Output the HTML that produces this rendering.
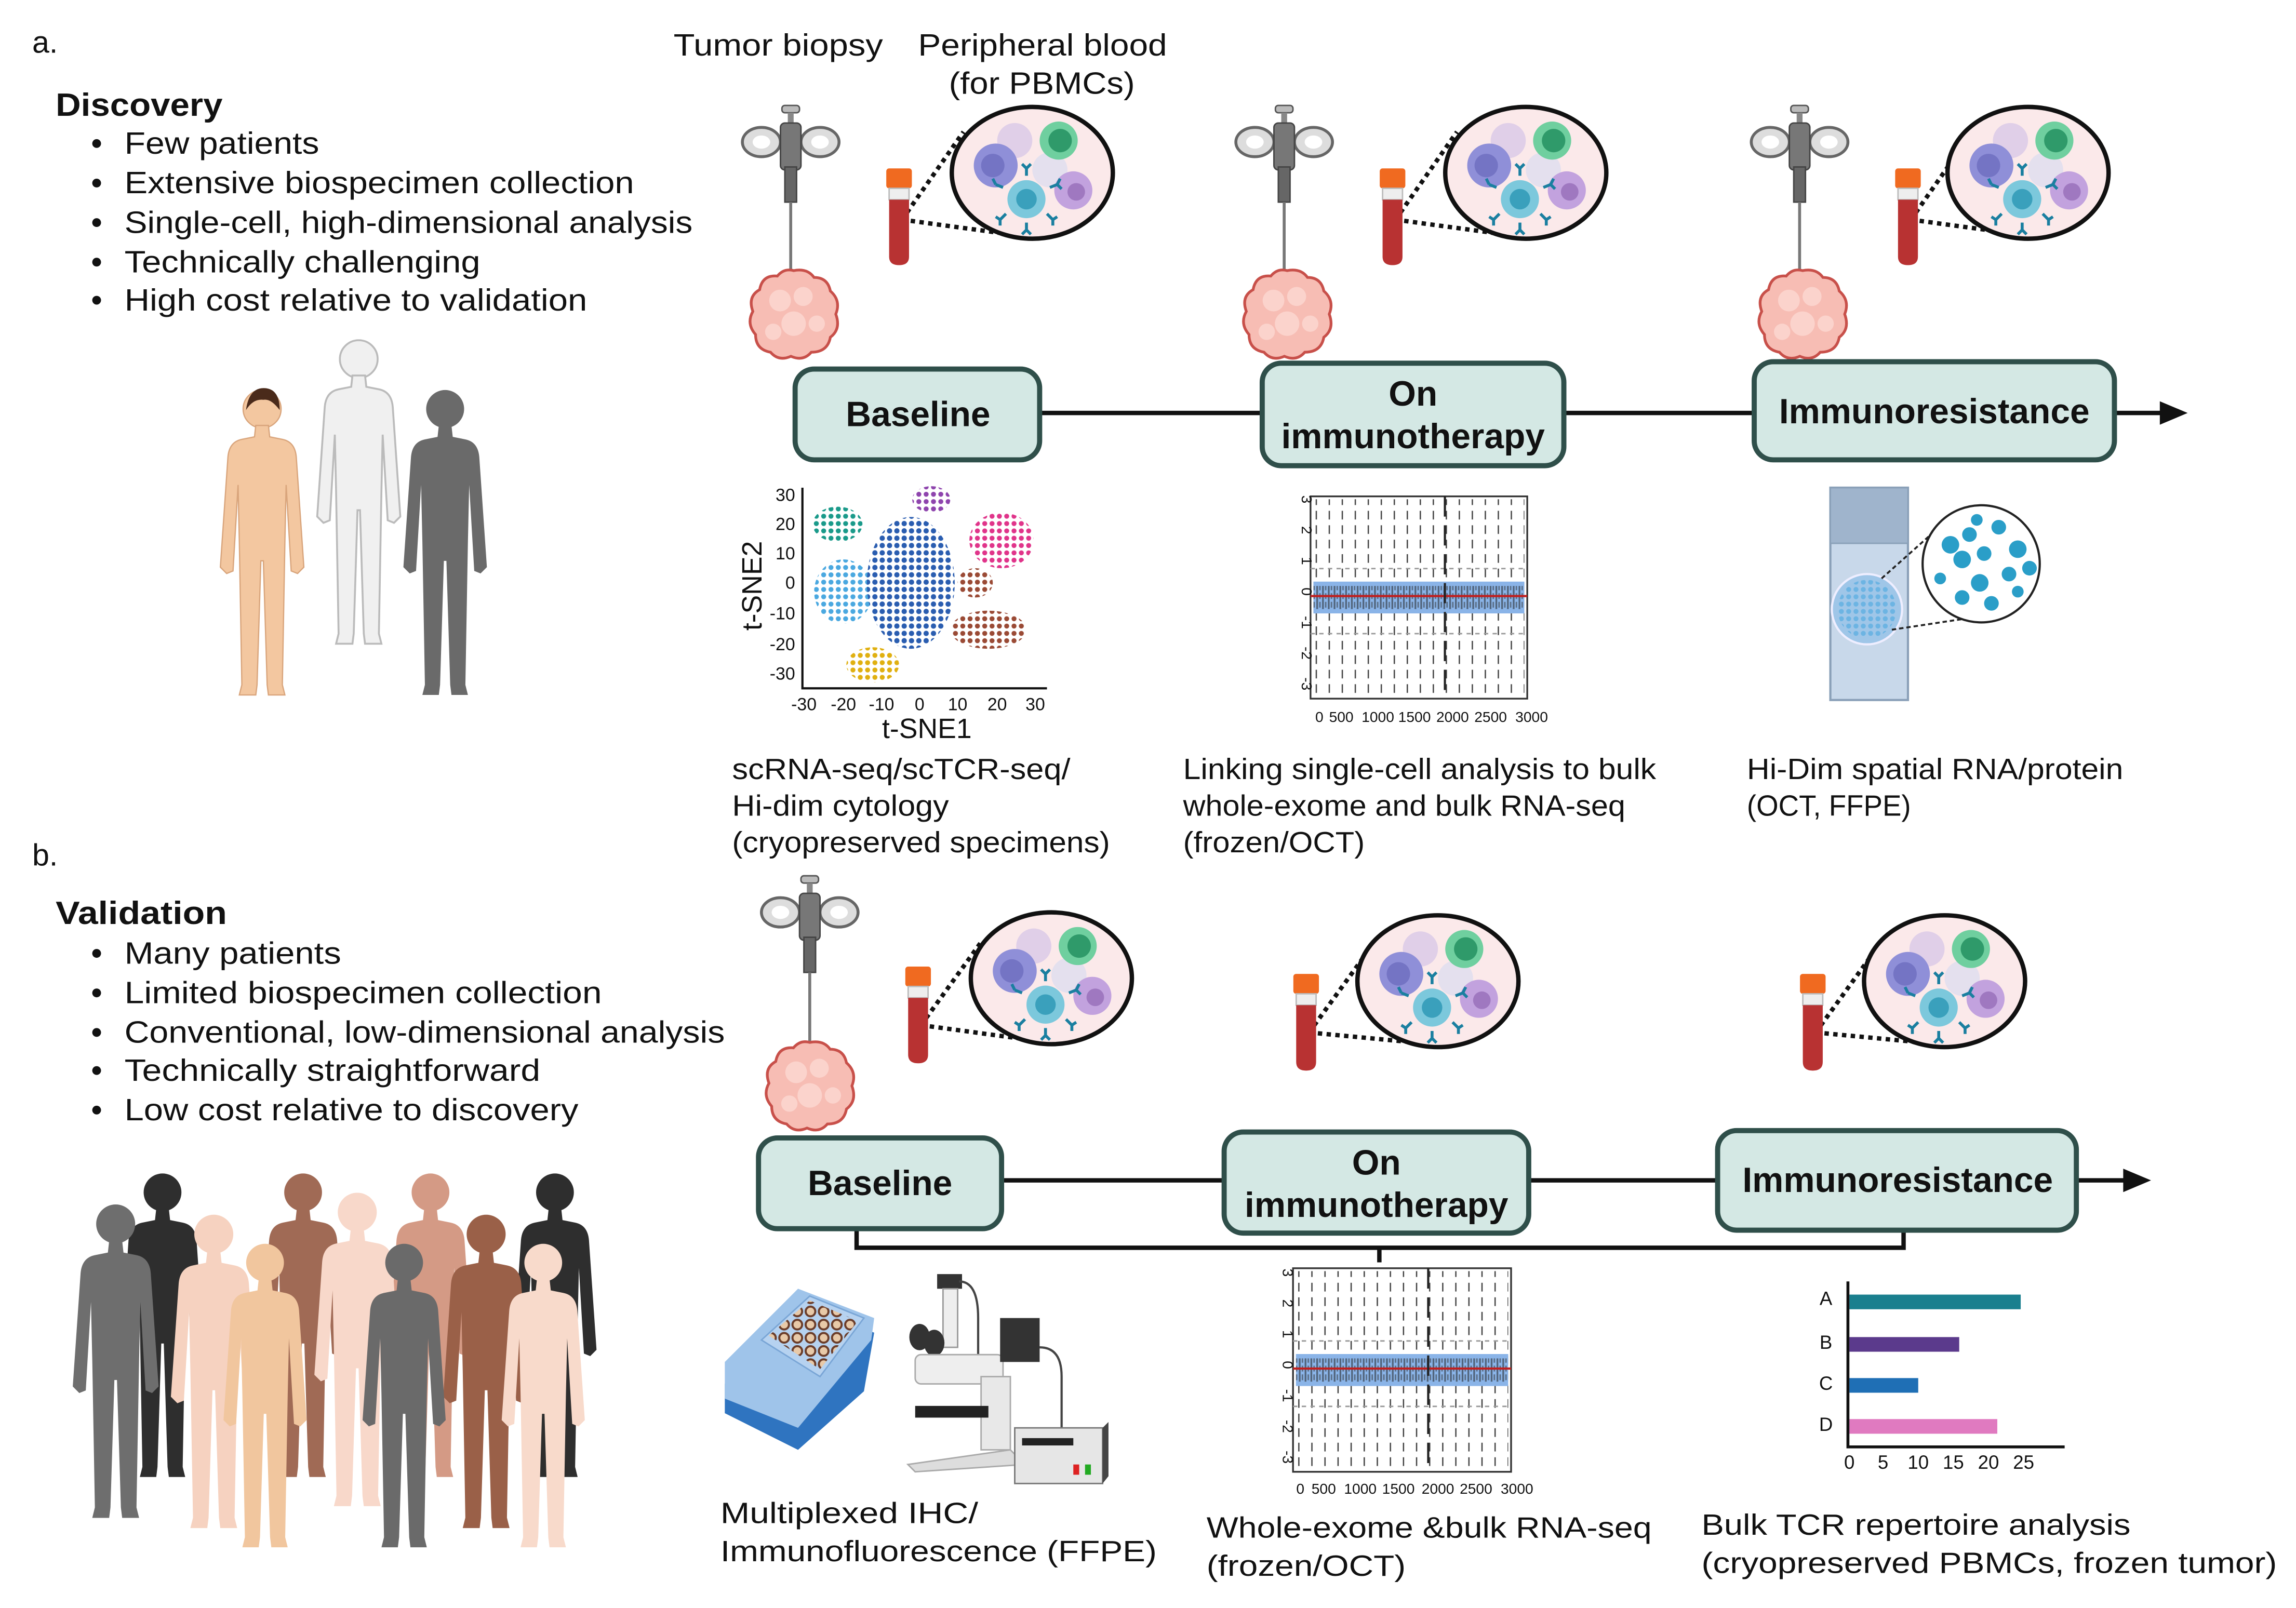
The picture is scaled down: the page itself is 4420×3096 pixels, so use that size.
<!DOCTYPE html>
<html><head><meta charset="utf-8"><style>
html,body{margin:0;padding:0;background:#fff;}
svg{display:block;}
text{font-family:"Liberation Sans",sans-serif;fill:#111;}
</style></head><body>
<svg width="4420" height="3096" viewBox="0 0 1568 1098" preserveAspectRatio="none" xmlns="http://www.w3.org/2000/svg">
<defs>
<pattern id="pTeal" width="5" height="5" patternUnits="userSpaceOnUse"><circle cx="2.5" cy="2.5" r="1.7" fill="#1a9a8a"/></pattern>
<pattern id="pPur" width="5" height="5" patternUnits="userSpaceOnUse"><circle cx="2.5" cy="2.5" r="1.7" fill="#8e44ad"/></pattern>
<pattern id="pPink" width="5" height="5" patternUnits="userSpaceOnUse"><circle cx="2.5" cy="2.5" r="1.7" fill="#e0348a"/></pattern>
<pattern id="pLb" width="5" height="5" patternUnits="userSpaceOnUse"><circle cx="2.5" cy="2.5" r="1.7" fill="#4aa8e0"/></pattern>
<pattern id="pBl" width="5" height="5" patternUnits="userSpaceOnUse"><circle cx="2.5" cy="2.5" r="1.8" fill="#2a5db0"/></pattern>
<pattern id="pBr" width="5" height="5" patternUnits="userSpaceOnUse"><circle cx="2.5" cy="2.5" r="1.7" fill="#9a4a35"/></pattern>
<pattern id="pYe" width="5" height="5" patternUnits="userSpaceOnUse"><circle cx="2.5" cy="2.5" r="1.7" fill="#e0b010"/></pattern>
<pattern id="pVd" width="9" height="10" patternUnits="userSpaceOnUse"><line x1="4" y1="0" x2="4" y2="6" stroke="#222" stroke-width="0.9"/></pattern>
<pattern id="pNoise" width="4" height="6" patternUnits="userSpaceOnUse"><rect x="0" y="0" width="1.2" height="6" fill="#222"/><rect x="2" y="1" width="1" height="4" fill="#333"/></pattern>
<pattern id="pWell" width="9" height="9" patternUnits="userSpaceOnUse"><circle cx="4.5" cy="4.5" r="3.3" fill="#e8c9a8" stroke="#6b3d2a" stroke-width="1.4"/></pattern>

<symbol id="person" viewBox="0 0 80 250" overflow="visible">
<circle cx="40" cy="20" r="15"/>
<path d="M35 33 L45 33 L46 42 L56 44 Q66 46 67 58 L73 145 L68 150 L63 148 L59 80 L58 125 L56 238 L58 246 L45 246 L44 238 L41 140 L39 140 L36 238 L35 246 L22 246 L24 238 L22 125 L21 80 L17 148 L12 150 L7 145 L13 58 Q14 46 24 44 L34 42 Z"/>
</symbol>

<symbol id="syringe" viewBox="0 0 70 120" overflow="visible">
<rect x="29" y="0" width="12" height="5" rx="2" fill="#bbb" stroke="#555"/>
<rect x="33" y="5" width="4" height="12" fill="#888"/>
<ellipse cx="15" cy="25" rx="13" ry="10" fill="#ddd" stroke="#666" stroke-width="2"/>
<ellipse cx="15" cy="25" rx="6" ry="4.5" fill="#fff"/>
<ellipse cx="55" cy="25" rx="13" ry="10" fill="#ddd" stroke="#666" stroke-width="2"/>
<ellipse cx="55" cy="25" rx="6" ry="4.5" fill="#fff"/>
<rect x="28" y="12" width="14" height="32" rx="3" fill="#777" stroke="#444"/>
<rect x="31" y="42" width="8" height="24" fill="#666" stroke="#444"/>
<line x1="35" y1="66" x2="35" y2="114" stroke="#777" stroke-width="2"/>
</symbol>

<symbol id="tumor" viewBox="0 0 70 70" overflow="visible">
<path d="M35 3 Q45 1 50 8 Q60 8 62 18 Q70 25 66 35 Q70 46 62 52 Q60 63 48 63 Q42 70 33 66 Q24 70 18 63 Q7 61 7 50 Q0 42 5 33 Q1 22 10 17 Q12 6 23 7 Q28 1 35 3 Z" fill="#f7bdb4" stroke="#c8504a" stroke-width="2"/>
<circle cx="25" cy="25" r="8" fill="#fbd3cc"/><circle cx="42" cy="22" r="7" fill="#fbd3cc"/><circle cx="35" cy="42" r="9" fill="#fbd3cc"/><circle cx="20" cy="48" r="6" fill="#fbd3cc"/><circle cx="52" cy="42" r="6" fill="#fbd3cc"/>
</symbol>

<symbol id="tube" viewBox="0 0 20 70" overflow="visible">
<rect x="1" y="0" width="18" height="14" rx="2" fill="#f06a20"/>
<rect x="3" y="14" width="14" height="8" fill="#eee" stroke="#bbb"/>
<path d="M3 22 L17 22 L17 62 Q17 68 10 68 Q3 68 3 62 Z" fill="#b83232"/>
</symbol>

<symbol id="cells" viewBox="-60 -50 120 100" overflow="visible">
<ellipse cx="0" cy="0" rx="55" ry="45" fill="#fbe9ea" stroke="#111" stroke-width="3"/>
<circle cx="-12" cy="-22" r="12" fill="#e0cfe8"/>
<circle cx="12" cy="-2" r="12" fill="#e4e0ee"/>
<circle cx="-25" cy="-5" r="15" fill="#8f8fd8"/><circle cx="-27" cy="-5" r="8" fill="#7474c4"/>
<circle cx="18" cy="-22" r="13" fill="#6fcf9f"/><circle cx="19" cy="-22" r="8" fill="#2f9a6a"/>
<circle cx="28" cy="12" r="13" fill="#c2a2de"/><circle cx="30" cy="13" r="6" fill="#9f78c0"/>
<circle cx="-4" cy="18" r="13" fill="#7cc8dc"/><circle cx="-4" cy="18" r="7" fill="#3aa0bc"/>
<g stroke="#1a7fa0" stroke-width="2" fill="none">
<path d="M-4 2 L-4 -3 M-7 -6 L-4 -3 L-1 -6"/><path d="M-4 34 L-4 39 M-7 42 L-4 39 L-1 42"/>
<path d="M-20 10 L-25 8 M-27 4 L-25 8 M-28 11"/><path d="M12 10 L17 8 L19 4 M17 8 L20 11"/>
<path d="M-18 28 L-22 32 M-25 30 L-22 32 L-22 36"/><path d="M10 28 L14 32 L17 30 M14 32 L14 36"/>
</g>
</symbol>

<symbol id="genome" viewBox="0 0 150 140" overflow="visible">
<rect x="0" y="0" width="150" height="140" fill="#fff" stroke="#333" stroke-width="1.2"/>
<rect x="2" y="2" width="146" height="136" fill="url(#pVd)" opacity="0.85"/>
<line x1="0" y1="50" x2="150" y2="50" stroke="#999" stroke-dasharray="3 3"/>
<line x1="0" y1="95" x2="150" y2="95" stroke="#999" stroke-dasharray="3 3"/>
<rect x="2" y="59" width="146" height="22" fill="#8ab4e8"/>
<rect x="2" y="62" width="146" height="16" fill="url(#pNoise)" opacity="0.55"/>
<line x1="0" y1="69" x2="150" y2="69" stroke="#c02020" stroke-width="1.5"/>
<line x1="93" y1="0" x2="93" y2="140" stroke="#222" stroke-width="1.5" stroke-dasharray="14 6"/>
</symbol>
</defs>

<!-- LEFT TEXT -->
<text x="22" y="36" font-size="21">a.</text>
<text x="38" y="79" font-size="22" font-weight="bold" textLength="114" lengthAdjust="spacingAndGlyphs">Discovery</text>
<g font-size="21">
<circle cx="66" cy="98" r="3" fill="#111"/><text x="85" y="105" textLength="133" lengthAdjust="spacingAndGlyphs">Few patients</text>
<circle cx="66" cy="125" r="3" fill="#111"/><text x="85" y="132" textLength="348" lengthAdjust="spacingAndGlyphs">Extensive biospecimen collection</text>
<circle cx="66" cy="152" r="3" fill="#111"/><text x="85" y="159" textLength="388" lengthAdjust="spacingAndGlyphs">Single-cell, high-dimensional analysis</text>
<circle cx="66" cy="179" r="3" fill="#111"/><text x="85" y="186" textLength="243" lengthAdjust="spacingAndGlyphs">Technically challenging</text>
<circle cx="66" cy="205" r="3" fill="#111"/><text x="85" y="212" textLength="316" lengthAdjust="spacingAndGlyphs">High cost relative to validation</text>
</g>
<text x="22" y="591" font-size="21">b.</text>
<text x="38" y="631" font-size="22" font-weight="bold" textLength="117" lengthAdjust="spacingAndGlyphs">Validation</text>
<g font-size="21">
<circle cx="66" cy="651" r="3" fill="#111"/><text x="85" y="658" textLength="148" lengthAdjust="spacingAndGlyphs">Many patients</text>
<circle cx="66" cy="678" r="3" fill="#111"/><text x="85" y="685" textLength="326" lengthAdjust="spacingAndGlyphs">Limited biospecimen collection</text>
<circle cx="66" cy="705" r="3" fill="#111"/><text x="85" y="712" textLength="410" lengthAdjust="spacingAndGlyphs">Conventional, low-dimensional analysis</text>
<circle cx="66" cy="731" r="3" fill="#111"/><text x="85" y="738" textLength="284" lengthAdjust="spacingAndGlyphs">Technically straightforward</text>
<circle cx="66" cy="758" r="3" fill="#111"/><text x="85" y="765" textLength="310" lengthAdjust="spacingAndGlyphs">Low cost relative to discovery</text>
</g>

<!-- PEOPLE a -->
<use href="#person" x="205" y="228" width="80" height="215" fill="#f0f0f0" stroke="#bbb" stroke-width="1.5"/>
<use href="#person" x="138" y="262" width="82" height="216" fill="#f3c7a0" stroke="#d9a57c" stroke-width="1"/>
<use href="#person" x="263" y="262" width="82" height="216" fill="#6a6a6a"/>
<path d="M168 280 Q170 265 180 265 Q191 265 191 280 Q185 272 180 273 Q173 272 168 280 Z" fill="#4a2a1a"/>

<!-- PEOPLE b -->
<g>
<use href="#person" x="72" y="797" width="78" height="215" fill="#2e2e2e"/>
<use href="#person" x="340" y="797" width="78" height="215" fill="#2e2e2e"/>
<use href="#person" x="168" y="797" width="78" height="215" fill="#a06a55"/>
<use href="#person" x="255" y="797" width="78" height="215" fill="#d49a85"/>
<use href="#person" x="40" y="818" width="78" height="222" fill="#6e6e6e"/>
<use href="#person" x="107" y="825" width="78" height="222" fill="#f6d2c0"/>
<use href="#person" x="205" y="810" width="78" height="222" fill="#f8d8ca"/>
<use href="#person" x="293" y="825" width="78" height="222" fill="#9a6048"/>
<use href="#person" x="140" y="845" width="82" height="215" fill="#f1c69e"/>
<use href="#person" x="235" y="845" width="82" height="215" fill="#6a6a6a"/>
<use href="#person" x="330" y="845" width="82" height="215" fill="#f8dacb"/>
</g>

<!-- HEADERS -->
<text x="460" y="38" font-size="21" textLength="143" lengthAdjust="spacingAndGlyphs">Tumor biopsy</text>
<text x="627" y="38" font-size="21" textLength="170" lengthAdjust="spacingAndGlyphs">Peripheral blood</text>
<text x="648" y="64" font-size="21" textLength="127" lengthAdjust="spacingAndGlyphs">(for PBMCs)</text>

<!-- ICONS a -->
<use href="#syringe" x="505" y="72" width="70" height="120"/>
<use href="#tumor" x="507" y="182" width="70" height="65"/>
<use href="#syringe" x="842" y="72" width="70" height="120"/>
<use href="#tumor" x="844" y="182" width="70" height="65"/>
<use href="#syringe" x="1194" y="72" width="70" height="120"/>
<use href="#tumor" x="1196" y="182" width="70" height="65"/>

<g stroke="#111" stroke-width="3" stroke-dasharray="3 3" fill="none">
<path d="M616 150 L658 90 M616 150 L690 160"/>
<path d="M953 150 L995 90 M953 150 L1027 160"/>
<path d="M1305 150 L1347 90 M1305 150 L1379 160"/>
<path d="M629 700 L671 642 M629 700 L703 710"/>
<path d="M894 705 L936 647 M894 705 L968 712"/>
<path d="M1240 705 L1282 647 M1240 705 L1314 712"/>
</g>
<use href="#tube" x="604" y="115" width="20" height="68"/>
<use href="#tube" x="941" y="115" width="20" height="68"/>
<use href="#tube" x="1293" y="115" width="20" height="68"/>
<use href="#cells" x="645" y="68" width="120" height="100"/>
<use href="#cells" x="982" y="68" width="120" height="100"/>
<use href="#cells" x="1325" y="68" width="120" height="100"/>

<!-- ICONS b -->
<use href="#syringe" x="518" y="598" width="70" height="120"/>
<use href="#tumor" x="520" y="709" width="66" height="65"/>
<use href="#tube" x="617" y="660" width="20" height="68"/>
<use href="#tube" x="882" y="665" width="20" height="68"/>
<use href="#tube" x="1228" y="665" width="20" height="68"/>
<use href="#cells" x="658" y="618" width="120" height="100"/>
<use href="#cells" x="922" y="620" width="120" height="100"/>
<use href="#cells" x="1268" y="620" width="120" height="100"/>

<!-- TIMELINE a -->
<line x1="708" y1="282" x2="1480" y2="282" stroke="#111" stroke-width="3"/>
<polygon points="1475,274 1494,282 1475,290" fill="#111"/>
<g fill="#d4e8e4" stroke="#2f4f4a" stroke-width="3.5">
<rect x="543" y="252" width="167" height="62" rx="13"/>
<rect x="862" y="248" width="206" height="70" rx="13"/>
<rect x="1198" y="247" width="246" height="67" rx="13"/>
</g>
<g font-size="24" font-weight="bold" text-anchor="middle">
<text x="627" y="291">Baseline</text>
<text x="965" y="277">On</text>
<text x="965" y="306">immunotherapy</text>
<text x="1321" y="289">Immunoresistance</text>
</g>

<!-- TIMELINE b -->
<line x1="683" y1="806" x2="1455" y2="806" stroke="#111" stroke-width="3"/>
<polygon points="1450,798 1469,806 1450,814" fill="#111"/>
<path d="M585 840 L585 852 L1300 852 L1300 840 M942 852 L942 862" stroke="#111" stroke-width="3" fill="none"/>
<g fill="#d4e8e4" stroke="#2f4f4a" stroke-width="3.5">
<rect x="518" y="777" width="166" height="62" rx="13"/>
<rect x="836" y="773" width="208" height="69" rx="13"/>
<rect x="1173" y="772" width="245" height="68" rx="13"/>
</g>
<g font-size="24" font-weight="bold" text-anchor="middle">
<text x="601" y="816">Baseline</text>
<text x="940" y="802">On</text>
<text x="940" y="831">immunotherapy</text>
<text x="1296" y="814">Immunoresistance</text>
</g>

<!-- tSNE -->
<g>
<ellipse cx="572" cy="358" rx="17" ry="12" fill="url(#pTeal)"/>
<ellipse cx="636" cy="341" rx="13" ry="9" fill="url(#pPur)"/>
<ellipse cx="684" cy="369" rx="22" ry="19" fill="url(#pPink)"/>
<ellipse cx="576" cy="404" rx="20" ry="22" fill="url(#pLb)"/>
<ellipse cx="622" cy="398" rx="30" ry="45" fill="url(#pBl)"/>
<ellipse cx="666" cy="398" rx="12" ry="10" fill="url(#pBr)"/>
<ellipse cx="675" cy="430" rx="26" ry="13" fill="url(#pBr)"/>
<ellipse cx="596" cy="454" rx="18" ry="12" fill="url(#pYe)"/>
<path d="M548 333 L548 470 L715 470" stroke="#111" stroke-width="1.5" fill="none"/>
<g font-size="12" text-anchor="end"><text x="543" y="342">30</text><text x="543" y="362">20</text><text x="543" y="382">10</text><text x="543" y="402">0</text><text x="543" y="423">-10</text><text x="543" y="444">-20</text><text x="543" y="464">-30</text></g>
<g font-size="12" text-anchor="middle"><text x="549" y="485">-30</text><text x="576" y="485">-20</text><text x="602" y="485">-10</text><text x="628" y="485">0</text><text x="654" y="485">10</text><text x="681" y="485">20</text><text x="707" y="485">30</text></g>
<text x="633" y="504" font-size="19" text-anchor="middle">t-SNE1</text>
<text x="0" y="0" font-size="19" text-anchor="middle" transform="translate(520,400) rotate(-90)">t-SNE2</text>
</g>

<!-- genome a -->
<use href="#genome" x="895" y="338" width="148" height="140"/>
<g font-size="10" text-anchor="middle">
<text transform="translate(889,341) rotate(90)">3</text><text transform="translate(889,362) rotate(90)">2</text><text transform="translate(889,383) rotate(90)">1</text><text transform="translate(889,404) rotate(90)">0</text><text transform="translate(889,425) rotate(90)">-1</text><text transform="translate(889,446) rotate(90)">-2</text><text transform="translate(889,467) rotate(90)">-3</text>
<text x="901" y="493">0</text><text x="916" y="493">500</text><text x="941" y="493">1000</text><text x="966" y="493">1500</text><text x="992" y="493">2000</text><text x="1018" y="493">2500</text><text x="1046" y="493">3000</text>
</g>
<!-- genome b -->
<use href="#genome" x="882" y="866" width="151" height="139"/>
<g font-size="10" text-anchor="middle">
<text transform="translate(876,869) rotate(90)">3</text><text transform="translate(876,890) rotate(90)">2</text><text transform="translate(876,911) rotate(90)">1</text><text transform="translate(876,932) rotate(90)">0</text><text transform="translate(876,953) rotate(90)">-1</text><text transform="translate(876,974) rotate(90)">-2</text><text transform="translate(876,995) rotate(90)">-3</text>
<text x="888" y="1020">0</text><text x="904" y="1020">500</text><text x="929" y="1020">1000</text><text x="955" y="1020">1500</text><text x="982" y="1020">2000</text><text x="1008" y="1020">2500</text><text x="1036" y="1020">3000</text>
</g>

<!-- slide -->
<rect x="1250" y="333" width="53" height="145" fill="#c8d8ea" stroke="#8aa0b8" stroke-width="1.5"/>
<rect x="1250" y="333" width="53" height="38" fill="#9fb4cc" stroke="#8aa0b8"/>
<circle cx="1275" cy="416" r="24" fill="#9fc6e8" stroke="#eef" stroke-width="1.5"/>
<circle cx="1275" cy="416" r="20" fill="url(#pLb)" opacity="0.6"/>
<g stroke="#222" stroke-width="1.3" stroke-dasharray="3 2"><line x1="1285" y1="395" x2="1322" y2="362"/><line x1="1292" y1="430" x2="1345" y2="422"/></g>
<circle cx="1353" cy="385" r="40" fill="#fff" stroke="#222" stroke-width="1.5"/>
<g fill="#2a9ec8"><circle cx="1332" cy="372" r="6"/><circle cx="1345" cy="365" r="5"/><circle cx="1340" cy="382" r="6"/><circle cx="1355" cy="378" r="5"/><circle cx="1365" cy="360" r="5"/><circle cx="1378" cy="375" r="6"/><circle cx="1386" cy="388" r="5"/><circle cx="1372" cy="392" r="5"/><circle cx="1352" cy="398" r="6"/><circle cx="1340" cy="408" r="5"/><circle cx="1360" cy="412" r="5"/><circle cx="1378" cy="404" r="4"/><circle cx="1325" cy="395" r="4"/><circle cx="1350" cy="355" r="4"/></g>

<!-- plate -->
<g>
<path d="M495 945 L545 890 L597 910 L590 950 L545 990 L495 965 Z" fill="#2f74c0"/>
<path d="M495 930 L545 880 L597 900 L595 915 L545 975 L495 955 Z" fill="#9fc4ea"/>
<path d="M520 915 L553 885 L590 900 L560 940 Z" fill="#b6d2f0" stroke="#7aa6d6"/>
<path d="M525 912 L553 888 L586 902 L560 935 Z" fill="url(#pWell)"/>
</g>
<!-- microscope -->
<g>
<rect x="640" y="870" width="17" height="10" fill="#333"/>
<rect x="644" y="880" width="10" height="40" fill="#eee" stroke="#999"/>
<path d="M655 875 Q668 875 668 900 L668 925" stroke="#444" stroke-width="1.5" fill="none"/>
<ellipse cx="628" cy="913" rx="7" ry="9" fill="#333"/><ellipse cx="638" cy="917" rx="7" ry="9" fill="#333"/>
<rect x="625" y="925" width="60" height="20" rx="4" fill="#eee" stroke="#aaa"/>
<rect x="670" y="940" width="20" height="50" fill="#e8e8e8" stroke="#aaa"/>
<rect x="683" y="900" width="27" height="30" fill="#333"/>
<rect x="625" y="960" width="50" height="8" fill="#222"/>
<path d="M620 1000 L690 990 L700 1000 L625 1005 Z" fill="#ddd" stroke="#aaa"/>
<path d="M710 920 Q725 920 725 940 L725 975" stroke="#444" stroke-width="1.5" fill="none"/>
<rect x="693" y="975" width="60" height="38" fill="#e6e6e6" stroke="#777"/>
<path d="M753 975 L757 971 L757 1008 L753 1013 Z" fill="#444"/>
<rect x="698" y="982" width="35" height="5" fill="#222"/>
<rect x="733" y="1000" width="4" height="7" fill="#d22"/><rect x="741" y="1000" width="4" height="7" fill="#2a2"/>
</g>

<!-- bar chart -->
<g>
<rect x="1263" y="884" width="117" height="10" fill="#1a7f8e"/>
<rect x="1263" y="913" width="75" height="10" fill="#5b3a8c"/>
<rect x="1263" y="941" width="47" height="10" fill="#1f6fb5"/>
<rect x="1263" y="969" width="101" height="10" fill="#e07ac0"/>
<path d="M1262 875 L1262 988 L1410 988" stroke="#111" stroke-width="2" fill="none"/>
<g font-size="13" text-anchor="middle"><text x="1247" y="891">A</text><text x="1247" y="921">B</text><text x="1247" y="949">C</text><text x="1247" y="977">D</text>
<text x="1263" y="1003">0</text><text x="1286" y="1003">5</text><text x="1310" y="1003">10</text><text x="1334" y="1003">15</text><text x="1358" y="1003">20</text><text x="1382" y="1003">25</text></g>
</g>

<!-- captions -->
<g font-size="20">
<text x="500" y="532" textLength="231" lengthAdjust="spacingAndGlyphs">scRNA-seq/scTCR-seq/</text>
<text x="500" y="557" textLength="148" lengthAdjust="spacingAndGlyphs">Hi-dim cytology</text>
<text x="500" y="582" textLength="258" lengthAdjust="spacingAndGlyphs">(cryopreserved specimens)</text>
<text x="808" y="532" textLength="323" lengthAdjust="spacingAndGlyphs">Linking single-cell analysis to bulk</text>
<text x="808" y="557" textLength="302" lengthAdjust="spacingAndGlyphs">whole-exome and bulk RNA-seq</text>
<text x="808" y="582" textLength="124" lengthAdjust="spacingAndGlyphs">(frozen/OCT)</text>
<text x="1193" y="532" textLength="257" lengthAdjust="spacingAndGlyphs">Hi-Dim spatial RNA/protein</text>
<text x="1193" y="557" textLength="112" lengthAdjust="spacingAndGlyphs">(OCT, FFPE)</text>
<text x="492" y="1040" textLength="176" lengthAdjust="spacingAndGlyphs">Multiplexed IHC/</text>
<text x="492" y="1066" textLength="298" lengthAdjust="spacingAndGlyphs">Immunofluorescence (FFPE)</text>
<text x="824" y="1050" textLength="304" lengthAdjust="spacingAndGlyphs">Whole-exome &amp;bulk RNA-seq</text>
<text x="824" y="1076" textLength="136" lengthAdjust="spacingAndGlyphs">(frozen/OCT)</text>
<text x="1162" y="1048" textLength="293" lengthAdjust="spacingAndGlyphs">Bulk TCR repertoire analysis</text>
<text x="1162" y="1074" textLength="393" lengthAdjust="spacingAndGlyphs">(cryopreserved PBMCs, frozen tumor)</text>
</g>
</svg>
</body></html>
